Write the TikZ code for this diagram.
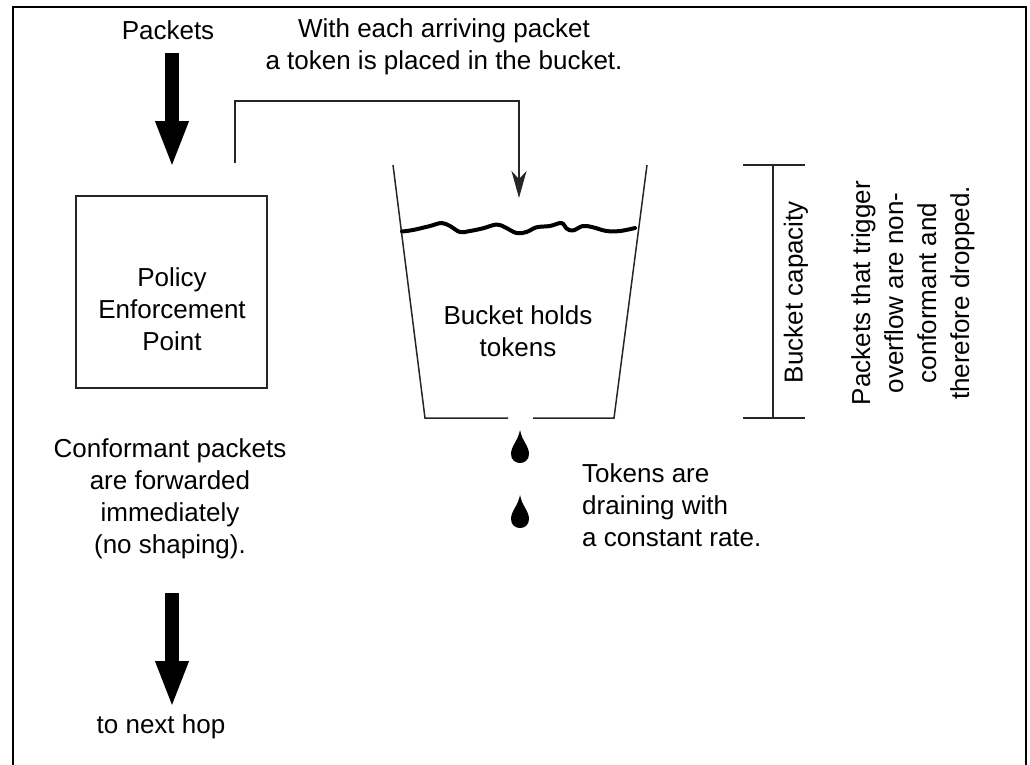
\documentclass[tikz,border=0pt]{standalone}
\usepackage{fontspec}
\setmainfont{Liberation Sans}
\usetikzlibrary{arrows.meta}

\tikzset{
  label text/.style={font=\fontsize{26}{32}\selectfont, align=center, inner sep=0pt},
  thin line/.style={line width=1.5pt, black!85},
  big arrow/.style={line width=14pt, -{Triangle[length=47pt,width=30pt]}},
  token arrow/.style={thin line, -{Stealth[length=27pt,width=15pt,inset=8pt]}},
  drop/.style={fill=black},
  wave/.style={line width=4pt, line cap=round, line join=round}
}

\begin{document}
\begin{tikzpicture}[x=1pt,y=-1pt]
  \useasboundingbox (0,0) rectangle (1030,764);

  % outer frame (runs off the lower edge)
  \draw[line width=2pt] (13,770) -- (13,7) -- (1026,7) -- (1026,770);

  % incoming packets
  \node[label text] (pkts) at (168,30) {Packets};
  \coordinate (inTop) at (172,53);
  \coordinate (inTip) at (172,168);
  \draw[big arrow] (inTop) -- (inTip);

  % policy enforcement point
  \node[draw, thin line, minimum width=191pt, minimum height=192pt, inner sep=0pt]
    (pep) at (171.5,292) {};
  \node[label text] (peptext) at (172,309) {Policy\\Enforcement\\Point};

  % forwarding text and outgoing arrow
  \node[label text] (conf) at (170,499) {Conformant packets\\are forwarded\\immediately\\(no shaping).};
  \coordinate (outTop) at (172,593);
  \coordinate (outTip) at (172,708);
  \draw[big arrow] (outTop) -- (outTip);
  \node[label text] (nexthop) at (161,727) {to next hop};

  % token placement
  \node[label text] (tokmsg) at (444,47) {With each arriving packet\\a token is placed in the bucket.};
  \coordinate (tokStart) at (235,163);
  \coordinate (tokCorner) at (519,101);
  \coordinate (tokEnd) at (519,198);
  \draw[token arrow] (tokStart) |- (tokCorner) -- (tokEnd);

  % the bucket
  \coordinate (bTL) at (393,165);
  \coordinate (bBL) at (425,418);
  \coordinate (bGapL) at (508,418);
  \coordinate (bGapR) at (533,418);
  \coordinate (bBR) at (614,418);
  \coordinate (bTR) at (647,165);
  \draw[thin line] (bTL) -- (bBL) -- (bGapL);
  \draw[thin line] (bGapR) -- (bBR) -- (bTR);

  % token level
  \draw[wave] plot[smooth, tension=0.6] coordinates {
    (402,231.5) (413,230) (430,226) (441.5,223) (450,226) (460,232)
    (470,231) (483,228.3) (496.5,224.5) (505,227.3) (516.5,233)
    (526.5,232) (536.5,227.3) (550,226) (561.5,223) (566.5,228.5)
    (573,230.5) (583,226) (593,227.3) (606.5,231) (620,231) (635,228)};

  \node[label text] (holds) at (518,331) {Bucket holds\\tokens};

  % draining drops
  \foreach \dy [count=\i] in {0,65} {
    \fill[drop] (520,430+\dy) .. controls (522,441+\dy) and (529,446+\dy) .. (529,454+\dy)
      .. controls (529,466+\dy) and (511,466+\dy) .. (511,454+\dy)
      .. controls (511,446+\dy) and (518,441+\dy) .. (520,430+\dy) -- cycle;
  }
  \node[label text, align=left, anchor=west] (drain) at (582,505)
    {Tokens are\\draining with\\a constant rate.};

  % capacity bracket
  \coordinate (capTop) at (773,165);
  \coordinate (capBot) at (773,418);
  \draw[thin line] (capTop) -- (capBot);
  \draw[thin line] (743,165) -- (805,165);
  \draw[thin line] (743,418) -- (805,418);
  \node[label text, rotate=90] (cap) at (796,292) {Bucket capacity};

  % overflow note
  \node[label text, rotate=90, font=\fontsize{26}{33}\selectfont] (overflow) at (913,293)
    {Packets that trigger\\overflow are non-\\conformant and\\therefore dropped.};
\end{tikzpicture}
\end{document}
